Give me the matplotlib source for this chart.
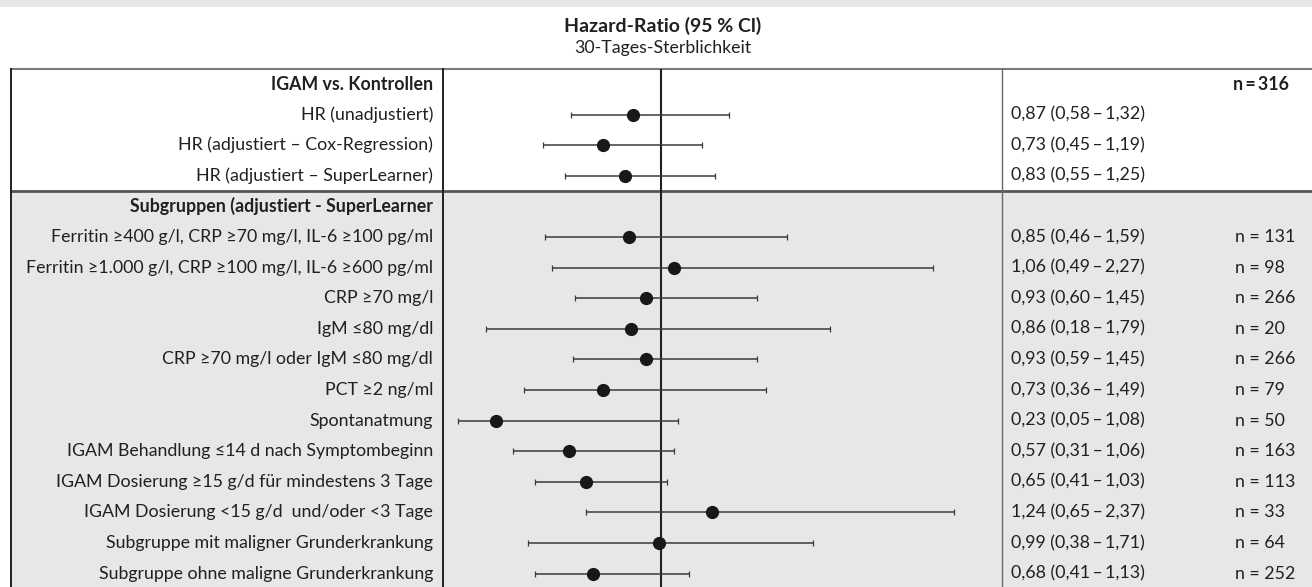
import numpy as np
import matplotlib
matplotlib.use("Agg")
import matplotlib.pyplot as plt
from matplotlib.patches import Rectangle

plt.rcParams['font.family'] = ['Lato', 'DejaVu Sans']

# Gesamtkohorte
main_labels = ["HR (unadjustiert)",
               "HR (adjustiert – Cox-Regression)",
               "HR (adjustiert – SuperLearner)"]
main_hr = [0.87, 0.73, 0.83]
main_lo = [0.58, 0.45, 0.55]
main_hi = [1.32, 1.19, 1.25]
main_n = 316

# Subgruppen (adjustiert - SuperLearner)
sub_labels = ["Ferritin ≥400 g/l, CRP ≥70 mg/l, IL-6 ≥100 pg/ml",
              "Ferritin ≥1.000 g/l, CRP ≥100 mg/l, IL-6 ≥600 pg/ml",
              "CRP ≥70 mg/l",
              "IgM ≤80 mg/dl",
              "CRP ≥70 mg/l oder IgM ≤80 mg/dl",
              "PCT ≥2 ng/ml",
              "Spontanatmung",
              "IGAM Behandlung ≤14 d nach Symptombeginn",
              "IGAM Dosierung ≥15 g/d für mindestens 3 Tage",
              "IGAM Dosierung <15 g/d  und/oder <3 Tage",
              "Subgruppe mit maligner Grunderkrankung",
              "Subgruppe ohne maligne Grunderkrankung"]
sub_hr = [0.85, 1.06, 0.93, 0.86, 0.93, 0.73, 0.23, 0.57, 0.65, 1.24, 0.99, 0.68]
sub_lo = [0.46, 0.49, 0.60, 0.18, 0.59, 0.36, 0.05, 0.31, 0.41, 0.65, 0.38, 0.41]
sub_hi = [1.59, 2.27, 1.45, 1.79, 1.45, 1.49, 1.08, 1.06, 1.03, 2.37, 1.71, 1.13]
sub_n = [131, 98, 266, 20, 266, 79, 50, 163, 113, 33, 64, 252]

W, H = 1312, 587
ROW0, ROWH = 84.0, 30.6
X_LEFT, X_SEP1, X_SEP2 = 11, 443, 1002
DARK = "#231f20"
GREY_BG = "#e6e7e8"
FS = 12.8


def row_y(i):
    return ROW0 + ROWH * i


def fmt(v):
    return f"{v:.2f}".replace(".", ",")


fig = plt.figure(figsize=(W / 100, H / 100), dpi=100)
fig.patch.set_facecolor("white")

# Rahmen und Tabellentext in Pixelkoordinaten
frame = fig.add_axes([0, 0, 1, 1])
frame.set_xlim(0, W)
frame.set_ylim(H, 0)
frame.axis("off")

frame.add_patch(Rectangle((0, 0), W, 7, color=GREY_BG, lw=0))
y_div = row_y(3.5)
frame.add_patch(Rectangle((X_LEFT, y_div), W - X_LEFT, H - y_div, color=GREY_BG, lw=0))

frame.text(663, 26, "Hazard-Ratio (95 % Cl)", ha="center", va="center",
           fontsize=14, fontweight="bold", color=DARK)
frame.text(663, 48, "30-Tages-Sterblichkeit", ha="center", va="center",
           fontsize=FS, color=DARK)

y_top = row_y(-0.5)
frame.plot([X_LEFT, W], [y_top, y_top], color="#7a7a7a", lw=1.5)
frame.plot([X_LEFT, W], [y_div, y_div], color="#555555", lw=2.0)
frame.plot([X_LEFT, X_LEFT], [y_top, H], color=DARK, lw=1.4)
frame.plot([X_SEP1, X_SEP1], [y_top, H], color=DARK, lw=1.4)
frame.plot([X_SEP2, X_SEP2], [y_top, H], color="#6a6a6a", lw=1.0)

# Kopfzeilen
frame.text(433, row_y(0), "IGAM vs. Kontrollen", ha="right", va="center",
           fontsize=FS, fontweight="bold", color=DARK)
frame.text(1289, row_y(0), f"n\u2009=\u2009{main_n}", ha="right", va="center",
           fontsize=FS, fontweight="bold", color=DARK)
frame.text(433, row_y(4), "Subgruppen (adjustiert - SuperLearner", ha="right",
           va="center", fontsize=FS, fontweight="bold", color=DARK)

labels = main_labels + sub_labels
hr = np.array(main_hr + sub_hr)
lo = np.array(main_lo + sub_lo)
hi = np.array(main_hi + sub_hi)
rows = np.array([1, 2, 3] + list(range(5, 17)))

for r, lab, h, l, u in zip(rows, labels, hr, lo, hi):
    frame.text(433, row_y(r), lab, ha="right", va="center", fontsize=FS, color=DARK)
    frame.text(1011, row_y(r), f"{fmt(h)} ({fmt(l)}\u2009–\u2009{fmt(u)})",
               ha="left", va="center", fontsize=FS, color=DARK)

for r, n in zip(rows[3:], sub_n):
    frame.text(1235, row_y(r), f"n = {n}", ha="left", va="center",
               fontsize=FS, color=DARK)

# Forest-Plot-Spalte: 1 Einheit HR = 214 px, HR 0 bei x = 447
px_per_unit = 214.0
x0 = (X_SEP1 - 447) / px_per_unit
x1 = (X_SEP2 - 447) / px_per_unit
y_bottom = (H - ROW0) / ROWH
forest = fig.add_axes([X_SEP1 / W, 0, (X_SEP2 - X_SEP1) / W, (H - y_top) / H])
forest.set_xlim(x0, x1)
forest.set_ylim(y_bottom, -0.5)
forest.axis("off")
forest.patch.set_alpha(0)

forest.axvline(1.0, color=DARK, lw=1.5, zorder=1)
forest.errorbar(hr, rows, xerr=[hr - lo, hi - hr], fmt="none", ecolor="#3a3a3a",
                elinewidth=1.1, capsize=2.5, capthick=0.9, zorder=2)
forest.plot(hr, rows, "o", color="#1a1718", markersize=8.5, zorder=3)

fig.savefig("out.png", dpi=100)
